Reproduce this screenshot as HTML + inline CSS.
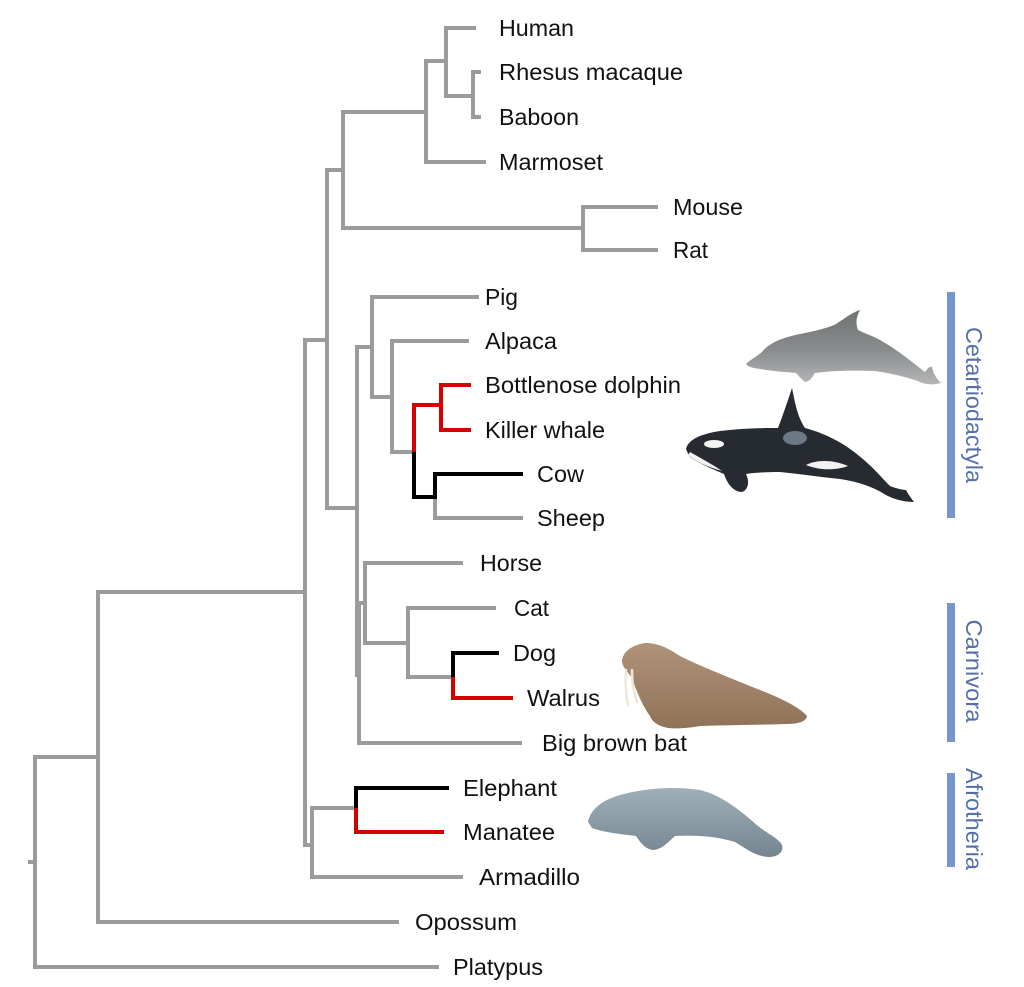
<!DOCTYPE html>
<html>
<head>
<meta charset="utf-8">
<style>
html,body{margin:0;padding:0;background:#fff;}
svg{display:block;}
text{font-family:"Liberation Sans",Arial,sans-serif;}
</style>
</head>
<body>
<svg width="1024" height="987" viewBox="0 0 1024 987" xmlns="http://www.w3.org/2000/svg">
<rect width="1024" height="987" fill="#fff"/>

<!-- Tree: gray branches -->
<g fill="none" stroke="#9b9b9b" stroke-width="4" stroke-linecap="square" stroke-linejoin="miter">
  <path d="M474,28 H446 V96 H473"/>
  <path d="M479,72 H473 V117 H479"/>
  <path d="M446,61 H426 V162 H484"/>
  <path d="M426,112 H343 V228 H583"/>
  <path d="M656,207 H583 V250 H656"/>
  <path d="M343,170 H327 V508 H357"/>
  <path d="M327,340 H305 V845 H312"/>
  <path d="M305,592 H98"/>
  <path d="M372,347 H357 V675 H359"/>
  <path d="M477,297 H372 V397 H392"/>
  <path d="M467,341 H392 V452 H413"/>
  <path d="M435,497 V518 H521"/>
  <path d="M359,603 V743 H520"/>
  <path d="M359,603 H365"/>
  <path d="M461,563 H365 V643 H408"/>
  <path d="M494,608 H408 V677 H453"/>
  <path d="M356,808 H312 V877 H461"/>
  <path d="M98,592 V922 H397"/>
  <path d="M98,757 H35 V967 H437"/>
  <path d="M30,862 H35"/>
</g>
<!-- red branches -->
<g fill="none" stroke="#d60000" stroke-width="4" stroke-linecap="square" stroke-linejoin="miter">
  <path d="M414,450 V405 H441"/>
  <path d="M469,385 H441 V430 H469"/>
  <path d="M453,679 V698 H511"/>
  <path d="M356,810 V832 H442"/>
</g>
<!-- black branches -->
<g fill="none" stroke="#000" stroke-width="4" stroke-linecap="square" stroke-linejoin="miter">
  <path d="M414,454 V497 H435 V474 H521"/>
  <path d="M453,675 V653 H497"/>
  <path d="M356,806 V788 H447"/>
</g>

<!-- Labels -->
<g font-size="23" fill="#111">
  <text x="499" y="36" textLength="75" lengthAdjust="spacingAndGlyphs">Human</text>
  <text x="499" y="80" textLength="184" lengthAdjust="spacingAndGlyphs">Rhesus macaque</text>
  <text x="499" y="125" textLength="80" lengthAdjust="spacingAndGlyphs">Baboon</text>
  <text x="499" y="170" textLength="104" lengthAdjust="spacingAndGlyphs">Marmoset</text>
  <text x="673" y="215" textLength="70" lengthAdjust="spacingAndGlyphs">Mouse</text>
  <text x="673" y="258" textLength="35" lengthAdjust="spacingAndGlyphs">Rat</text>
  <text x="485" y="305" textLength="33" lengthAdjust="spacingAndGlyphs">Pig</text>
  <text x="485" y="349" textLength="72" lengthAdjust="spacingAndGlyphs">Alpaca</text>
  <text x="485" y="393" textLength="196" lengthAdjust="spacingAndGlyphs">Bottlenose dolphin</text>
  <text x="485" y="438" textLength="120" lengthAdjust="spacingAndGlyphs">Killer whale</text>
  <text x="537" y="482" textLength="47" lengthAdjust="spacingAndGlyphs">Cow</text>
  <text x="537" y="526" textLength="68" lengthAdjust="spacingAndGlyphs">Sheep</text>
  <text x="480" y="571" textLength="62" lengthAdjust="spacingAndGlyphs">Horse</text>
  <text x="514" y="616" textLength="35" lengthAdjust="spacingAndGlyphs">Cat</text>
  <text x="513" y="661" textLength="43" lengthAdjust="spacingAndGlyphs">Dog</text>
  <text x="527" y="706" textLength="73" lengthAdjust="spacingAndGlyphs">Walrus</text>
  <text x="542" y="751" textLength="145" lengthAdjust="spacingAndGlyphs">Big brown bat</text>
  <text x="463" y="796" textLength="94" lengthAdjust="spacingAndGlyphs">Elephant</text>
  <text x="463" y="840" textLength="92" lengthAdjust="spacingAndGlyphs">Manatee</text>
  <text x="479" y="885" textLength="101" lengthAdjust="spacingAndGlyphs">Armadillo</text>
  <text x="415" y="930" textLength="102" lengthAdjust="spacingAndGlyphs">Opossum</text>
  <text x="453" y="975" textLength="90" lengthAdjust="spacingAndGlyphs">Platypus</text>
</g>

<!-- Clade bars -->
<g fill="#7596cb">
  <rect x="947" y="292" width="8" height="226"/>
  <rect x="947" y="603" width="8" height="139"/>
  <rect x="947" y="773" width="8" height="94"/>
</g>
<g font-size="23" fill="#5570a8" text-anchor="middle">
  <text transform="translate(966,405) rotate(90)" textLength="156" lengthAdjust="spacingAndGlyphs">Cetartiodactyla</text>
  <text transform="translate(966,671) rotate(90)" textLength="103" lengthAdjust="spacingAndGlyphs">Carnivora</text>
  <text transform="translate(966,819) rotate(90)" textLength="102" lengthAdjust="spacingAndGlyphs">Afrotheria</text>
</g>

<!-- Dolphin -->
<defs>
  <linearGradient id="dg" x1="0" y1="0" x2="0" y2="1">
    <stop offset="0" stop-color="#6f7273"/>
    <stop offset="0.55" stop-color="#8a8d8e"/>
    <stop offset="1" stop-color="#b4b6b7"/>
  </linearGradient>
  <linearGradient id="mg" x1="0" y1="0" x2="0" y2="1">
    <stop offset="0" stop-color="#9fb0ba"/>
    <stop offset="1" stop-color="#75858f"/>
  </linearGradient>
  <linearGradient id="wg" x1="0" y1="0" x2="0" y2="1">
    <stop offset="0" stop-color="#b0937a"/>
    <stop offset="1" stop-color="#8f7258"/>
  </linearGradient>
</defs>
<path fill="url(#dg)" d="M746,364 C750,360 756,357 762,352 C768,344 780,338 800,334 C815,331 828,328 836,324 C845,318 853,312 860,310 C857,316 855,322 858,330 C866,334 873,336 880,340 C898,350 912,362 925,372 C928,368 930,366 932,367 C933,373 936,378 941,383 C933,385 925,385 918,381 C905,377 890,373 875,371 C850,370 830,371 815,373 C812,377 811,381 805,382 C800,378 798,375 796,373 C785,372 770,371 760,369 C753,368 748,367 746,364 Z"/>

<!-- Orca -->
<path fill="#252b30" d="M686,449 C688,440 700,434 720,431 C745,428 765,428 778,428 C783,415 788,400 792,388 C795,402 797,416 805,428 C820,432 840,440 858,455 C872,466 882,478 890,486 C895,488 902,490 906,490 C908,494 911,498 914,502 C905,502 895,500 886,495 C875,488 860,482 840,479 C820,477 800,474 780,472 C765,472 752,473 746,474 C750,482 748,490 742,492 C735,492 728,486 724,474 C710,468 696,462 689,456 Z"/>
<ellipse cx="714" cy="444" rx="10" ry="4" fill="#f2f2f2"/>
<path fill="#f2f2f2" d="M688,455 C696,462 708,467 722,471 C715,466 704,460 690,452 Z"/>
<path fill="#f2f2f2" d="M806,465 C815,460 832,459 848,466 C838,470 820,471 806,465 Z"/>
<ellipse cx="795" cy="438" rx="12" ry="7" fill="#6c7887"/>

<!-- Walrus -->
<path fill="url(#wg)" d="M622,662 C622,652 632,645 645,643 C658,643 668,648 680,656 C700,666 730,678 760,690 C785,700 800,708 807,716 C806,722 798,724 785,724 C760,725 730,725 700,726 C690,728 675,729 668,728 C658,726 652,722 650,716 C642,705 636,690 632,678 C628,672 623,668 622,662 Z"/>
<path fill="none" stroke="#efe7d8" stroke-width="2.5" stroke-linecap="round" d="M626,670 C625,684 626,696 628,705 M632,670 C632,684 634,694 637,702"/>

<!-- Manatee -->
<path fill="url(#mg)" d="M588,822 C590,810 602,800 620,795 C645,788 675,786 700,790 C722,795 742,812 758,826 C768,834 778,838 782,845 C784,852 778,857 768,857 C755,856 745,848 735,842 C715,836 695,835 675,836 C668,842 662,850 652,850 C644,848 640,842 636,836 C620,834 602,832 592,828 Z"/>
</svg>
</body>
</html>
